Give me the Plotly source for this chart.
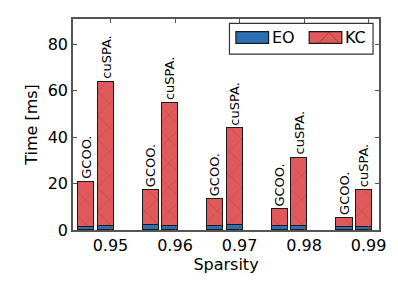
import plotly.graph_objects as go

sparsity = [0.95, 0.96, 0.97, 0.98, 0.99]
tick_labels = ["0.95", "0.96", "0.97", "0.98", "0.99"]
methods = ["GCOO.", "cuSPA."]
series_names = ["EO", "KC"]
eo_gcoo = [1.5, 2.2, 1.7, 1.6, 1.2]
kc_gcoo = [19.2, 15.1, 11.5, 7.4, 4.0]
eo_cuspa = [1.7, 1.7, 2.0, 1.6, 1.3]
kc_cuspa = [62.3, 52.9, 41.8, 29.6, 16.0]

W, H = 398, 282
ML, MR, MT, MB = 73, 16, 19, 47
PW, PH = W - ML - MR, H - MT - MB

bar_w = 0.0025
offsets = [-0.00375, -0.00075]

x_g = [s + offsets[0] for s in sparsity]
x_c = [s + offsets[1] for s in sparsity]
xs = x_g + x_c
eo = eo_gcoo + eo_cuspa
kc = kc_gcoo + kc_cuspa

blue = "#2c6fb3"
red = "#e05a5b"
edge = "#1a1a1a"

fig = go.Figure()
fig.add_trace(go.Bar(
    x=xs, y=eo, width=bar_w, name=series_names[0], showlegend=False,
    marker=dict(color=blue, line=dict(color=edge, width=1.5)),
))
fig.add_trace(go.Bar(
    x=xs, y=kc, width=bar_w, name=series_names[1], showlegend=False,
    marker=dict(color=red, line=dict(color=edge, width=1.5),
                pattern=dict(shape="x", fgcolor="#8a3030", size=17, solidity=0.06)),
))

tot_g = [a + b for a, b in zip(eo_gcoo, kc_gcoo)]
tot_c = [a + b for a, b in zip(eo_cuspa, kc_cuspa)]
for xv, tv in zip(x_g, tot_g):
    fig.add_annotation(x=xv, y=tv, text=methods[0], textangle=-90, showarrow=False,
                       xanchor="center", yanchor="bottom", yshift=1,
                       font=dict(size=13, color="black"))
for xv, tv in zip(x_c, tot_c):
    fig.add_annotation(x=xv, y=tv, text=methods[1], textangle=-90, showarrow=False,
                       xanchor="center", yanchor="bottom", yshift=1,
                       font=dict(size=13, color="black"))


# --- custom legend (pixel layout -> paper coords) ---
def px(x):
    return (x - ML) / PW


def py(y):
    return (H - MB - y) / PH


shapes = []
shapes.append(dict(type="rect", xref="paper", yref="paper", x0=px(231), x1=px(376),
                   y0=py(55), y1=py(23.5), fillcolor="white",
                   line=dict(color="#333333", width=1.2), layer="above"))
shapes.append(dict(type="rect", xref="paper", yref="paper", x0=px(237.5), x1=px(270.5),
                   y0=py(44), y1=py(32), fillcolor=blue,
                   line=dict(color=edge, width=1.2), layer="above"))
shapes.append(dict(type="rect", xref="paper", yref="paper", x0=px(311.5), x1=px(344.5),
                   y0=py(44), y1=py(32), fillcolor=red,
                   line=dict(color=edge, width=1.2), layer="above"))
shapes.append(dict(type="path", xref="paper", yref="paper",
                   path="M {} {} L {} {} L {} {}".format(px(321), py(44), px(331.5), py(32.5),
                                                     px(342), py(44)),
                   line=dict(color="#8a3030", width=0.7), layer="above"))
for label, xpix in zip(series_names, [272, 346]):
    fig.add_annotation(xref="paper", yref="paper", x=px(xpix), y=py(38), text=label,
                       showarrow=False, xanchor="left", yanchor="middle",
                       font=dict(size=16, color="black"))

axis_common = dict(showline=True, linecolor="#555555", linewidth=1.5, mirror="allticks",
                   ticks="inside", ticklen=4, tickcolor="#555555", showgrid=False,
                   zeroline=False, tickfont=dict(size=16, color="black"))

fig.update_layout(
    width=W, height=H,
    margin=dict(l=ML, r=MR, t=MT, b=MB),
    paper_bgcolor="white", plot_bgcolor="white",
    font=dict(family="DejaVu Sans", color="black"),
    barmode="stack", bargap=0,
    showlegend=False,
    shapes=shapes,
    xaxis=dict(range=[0.9442, 0.9916], tickvals=sparsity, ticktext=tick_labels,
               title=dict(text="Sparsity", font=dict(size=16), standoff=4), **axis_common),
    yaxis=dict(range=[0, 91], tickvals=[0, 20, 40, 60, 80],
               title=dict(text="Time [ms]", font=dict(size=16), standoff=6), **axis_common),
)

fig.write_html("out.html", config={"displayModeBar": False},
               post_script="document.body.style.margin='0';")
